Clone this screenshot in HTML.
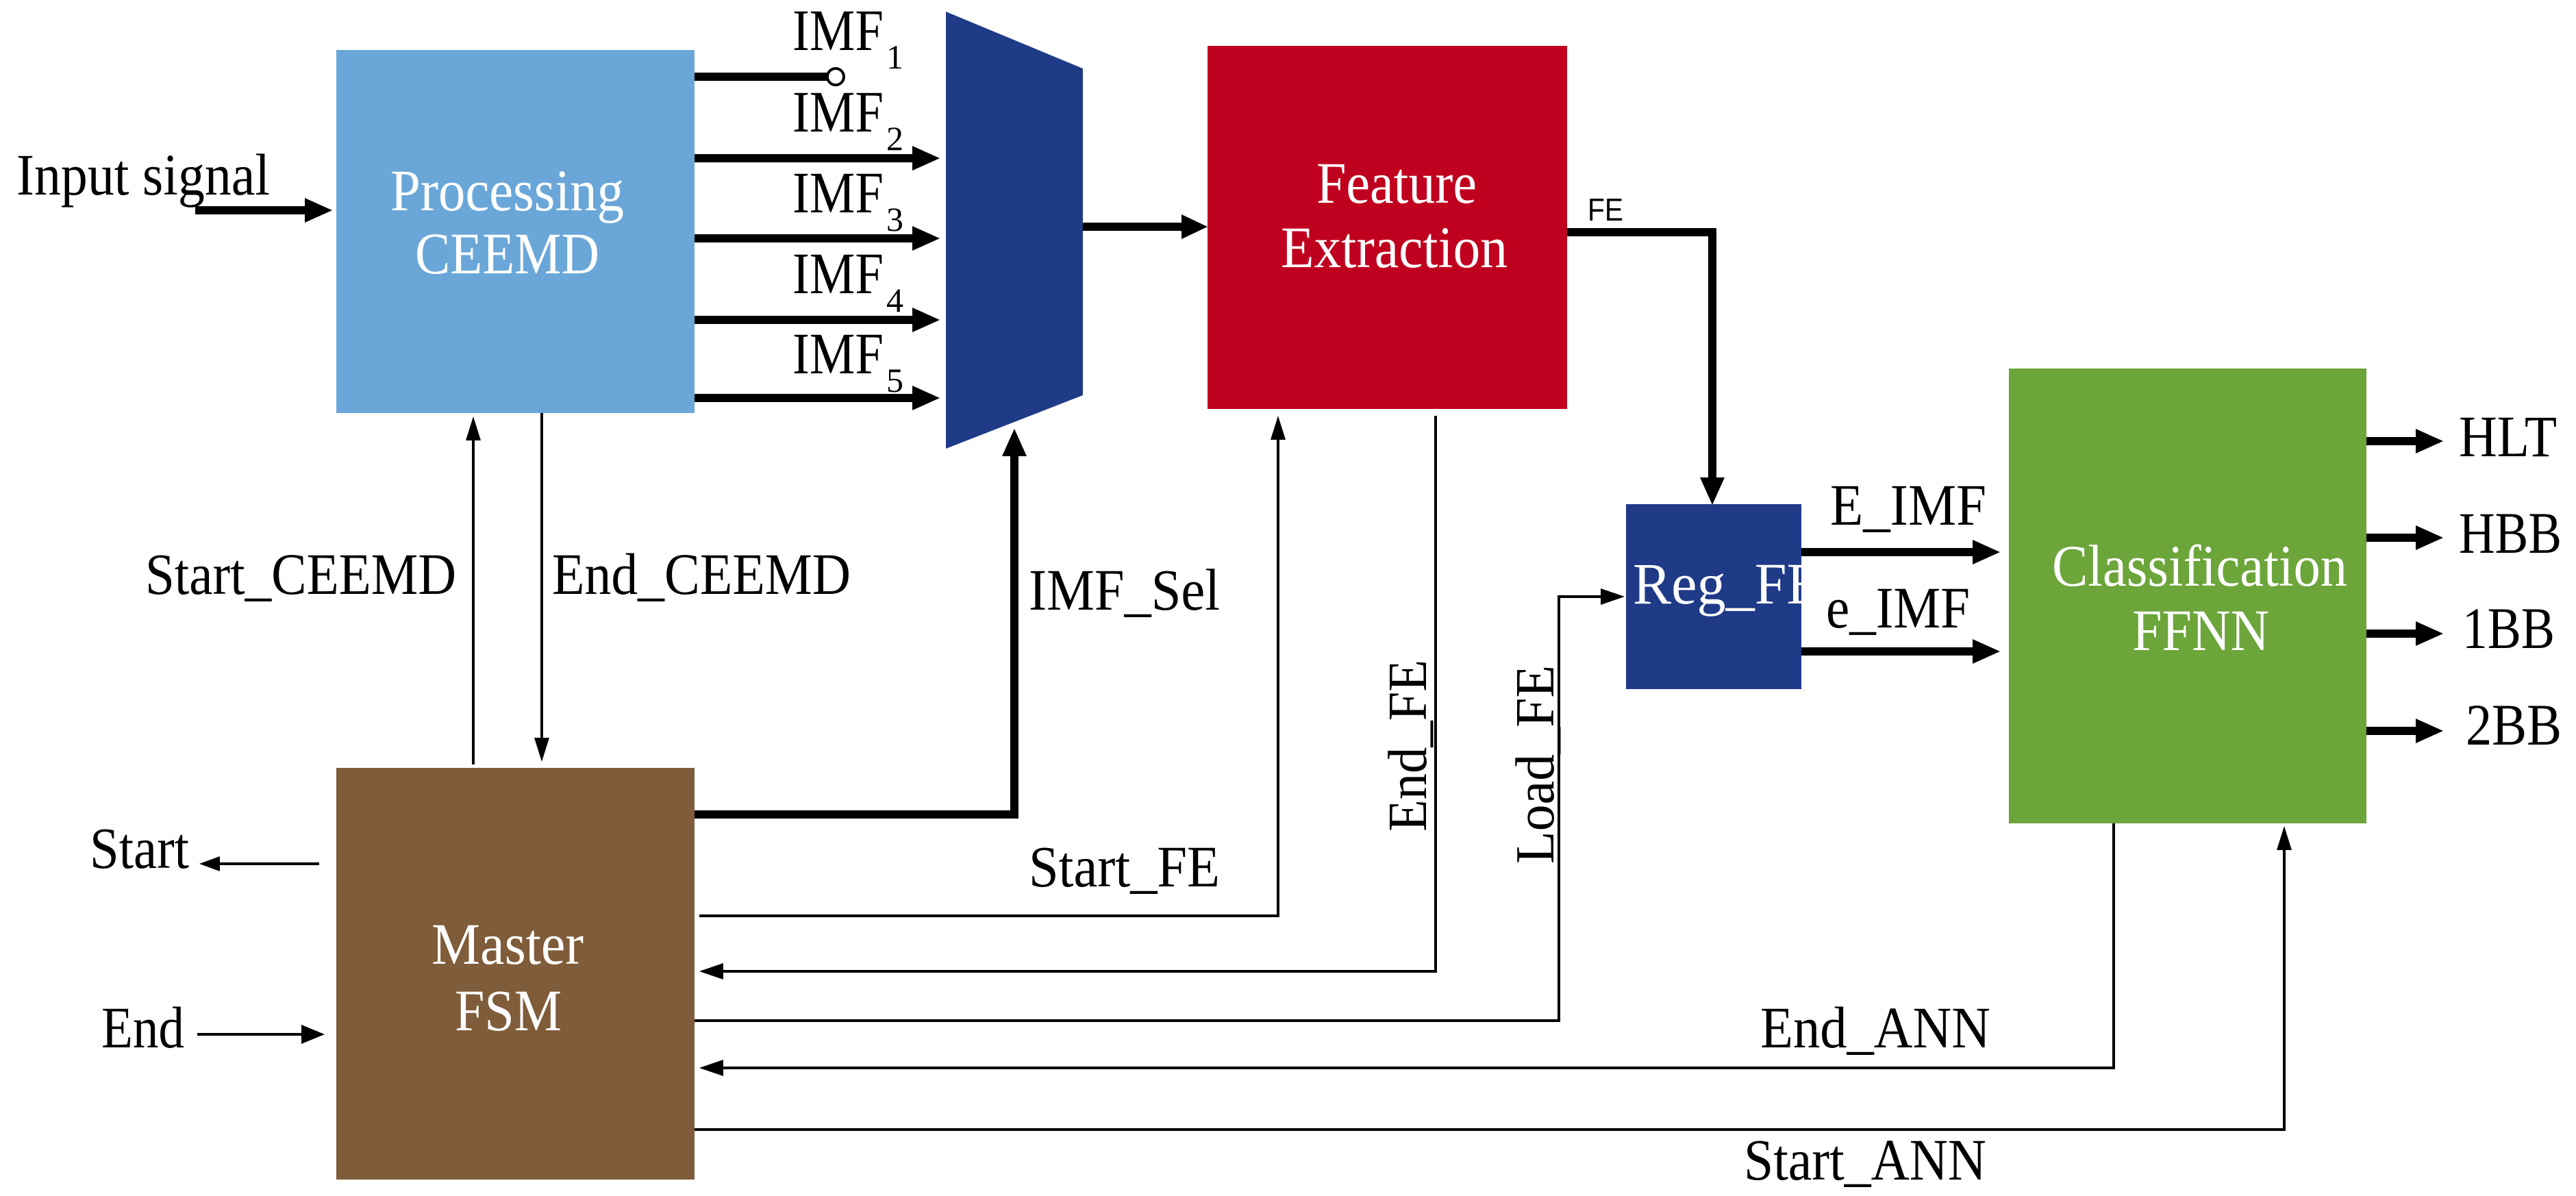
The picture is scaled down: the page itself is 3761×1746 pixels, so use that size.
<!DOCTYPE html>
<html><head><meta charset="utf-8"><style>html,body{margin:0;padding:0;background:#fff}svg{display:block}</style></head>
<body>
<svg width="3761" height="1746" viewBox="0 0 3761 1746" xmlns="http://www.w3.org/2000/svg" font-family="Liberation Serif, serif">
<rect width="3761" height="1746" fill="#fff"/>
<!-- boxes -->
<rect x="491" y="73" width="523" height="530" fill="#6aa7d8"/>
<polygon points="1381,17 1581,100 1581,577 1381,655" fill="#1f3a87"/>
<rect x="1763" y="67" width="525" height="530" fill="#c0001f"/>
<rect x="2374" y="736" width="256" height="270" fill="#1f3a87"/>
<rect x="2933" y="538" width="522" height="664" fill="#6ca53a"/>
<rect x="491" y="1121" width="523" height="601" fill="#7f5c3a"/>

<!-- thick connectors -->
<g stroke="#000" stroke-width="12" fill="none">
<line x1="285" y1="307" x2="455" y2="307"/>
<line x1="1014" y1="112" x2="1208" y2="112"/>
<line x1="1014" y1="231" x2="1340" y2="231"/>
<line x1="1014" y1="348" x2="1340" y2="348"/>
<line x1="1014" y1="467" x2="1340" y2="467"/>
<line x1="1014" y1="581" x2="1340" y2="581"/>
<line x1="1581" y1="331" x2="1735" y2="331"/>
<polyline points="2288,339 2500,339 2500,705"/>
<line x1="2630" y1="806" x2="2890" y2="806"/>
<line x1="2630" y1="951" x2="2890" y2="951"/>
<line x1="3455" y1="644" x2="3535" y2="644"/>
<line x1="3455" y1="785" x2="3535" y2="785"/>
<line x1="3455" y1="925" x2="3535" y2="925"/>
<line x1="3455" y1="1067" x2="3535" y2="1067"/>
<polyline points="1014,1189 1481,1189 1481,660"/>
</g>
<circle cx="1220" cy="112" r="12" fill="#fff" stroke="#000" stroke-width="4"/>
<g fill="#000">
<polygon points="445,289 485,307 445,325"/>
<polygon points="1332,213 1372,231 1332,249"/>
<polygon points="1332,330 1372,348 1332,366"/>
<polygon points="1332,449 1372,467 1332,485"/>
<polygon points="1332,563 1372,581 1332,599"/>
<polygon points="1725,313 1763,331 1725,349"/>
<polygon points="2482,697 2500,737 2518,697"/>
<polygon points="2880,788 2920,806 2880,824"/>
<polygon points="2880,933 2920,951 2880,969"/>
<polygon points="3527,626 3567,644 3527,662"/>
<polygon points="3527,767 3567,785 3527,803"/>
<polygon points="3527,907 3567,925 3527,943"/>
<polygon points="3527,1049 3567,1067 3527,1085"/>
<polygon points="1463,666 1481,626 1499,666"/>
</g>

<!-- thin connectors -->
<g stroke="#000" stroke-width="4" fill="none">
<line x1="691" y1="1116" x2="691" y2="630"/>
<line x1="791" y1="603" x2="791" y2="1090"/>
<polyline points="1021,1337 1866,1337 1866,630"/>
<polyline points="2096,607 2096,1418 1045,1418"/>
<polyline points="1014,1490 2276,1490 2276,871 2350,871"/>
<polyline points="3086,1202 3086,1559 1045,1559"/>
<polyline points="1014,1649 3335,1649 3335,1230"/>
<line x1="466" y1="1261" x2="310" y2="1261"/>
<line x1="288" y1="1510" x2="450" y2="1510"/>
</g>
<g fill="#000">
<polygon points="680,643 691,608 702,643"/>
<polygon points="780,1077 791,1112 802,1077"/>
<polygon points="1855,642 1866,607 1877,642"/>
<polygon points="1056,1406 1021,1418 1056,1430"/>
<polygon points="2337,859 2372,871 2337,883"/>
<polygon points="1056,1547 1021,1559 1056,1571"/>
<polygon points="3324,1241 3335,1206 3346,1241"/>
<polygon points="321,1250 291,1261 321,1272"/>
<polygon points="440,1496 474,1510 440,1524"/>
</g>

<!-- labels -->
<g font-size="86" fill="#000">
<text x="24" y="284" textLength="370" lengthAdjust="spacingAndGlyphs">Input signal</text>
<text x="1157" y="73" textLength="133" lengthAdjust="spacingAndGlyphs">IMF</text>
<text x="1157" y="192" textLength="133" lengthAdjust="spacingAndGlyphs">IMF</text>
<text x="1157" y="310" textLength="133" lengthAdjust="spacingAndGlyphs">IMF</text>
<text x="1157" y="428" textLength="133" lengthAdjust="spacingAndGlyphs">IMF</text>
<text x="1157" y="545" textLength="133" lengthAdjust="spacingAndGlyphs">IMF</text>
<text x="1294" y="100" font-size="50">1</text>
<text x="1294" y="219" font-size="50">2</text>
<text x="1294" y="337" font-size="50">3</text>
<text x="1294" y="455" font-size="50">4</text>
<text x="1294" y="572" font-size="50">5</text>
<text x="212" y="867" textLength="454" lengthAdjust="spacingAndGlyphs">Start_CEEMD</text>
<text x="806" y="867" textLength="436" lengthAdjust="spacingAndGlyphs">End_CEEMD</text>
<text x="1502" y="890" textLength="279" lengthAdjust="spacingAndGlyphs">IMF_Sel</text>
<text x="1502" y="1294" textLength="279" lengthAdjust="spacingAndGlyphs">Start_FE</text>
<text x="131" y="1267" textLength="145" lengthAdjust="spacingAndGlyphs">Start</text>
<text x="148" y="1529" textLength="121" lengthAdjust="spacingAndGlyphs">End</text>
<text x="2672" y="766" textLength="228" lengthAdjust="spacingAndGlyphs">E_IMF</text>
<text x="2666" y="916" textLength="210" lengthAdjust="spacingAndGlyphs">e_IMF</text>
<text x="3590" y="666" textLength="143" lengthAdjust="spacingAndGlyphs">HLT</text>
<text x="3590" y="807" textLength="150" lengthAdjust="spacingAndGlyphs">HBB</text>
<text x="3595" y="946" textLength="135" lengthAdjust="spacingAndGlyphs">1BB</text>
<text x="3600" y="1087" textLength="140" lengthAdjust="spacingAndGlyphs">2BB</text>
<text x="2570" y="1529" textLength="336" lengthAdjust="spacingAndGlyphs">End_ANN</text>
<text x="2546" y="1722" textLength="354" lengthAdjust="spacingAndGlyphs">Start_ANN</text>
<text transform="translate(2082,1214) rotate(-90)" textLength="251" lengthAdjust="spacingAndGlyphs" font-size="80">End_FE</text>
<text transform="translate(2268,1261) rotate(-90)" textLength="290" lengthAdjust="spacingAndGlyphs" font-size="80">Load_FE</text>
<text x="2318" y="322" font-family="Liberation Sans, sans-serif" font-size="46" textLength="52" lengthAdjust="spacingAndGlyphs">FE</text>
</g>
<g font-size="86" fill="#fff">
<text x="570" y="307" textLength="341" lengthAdjust="spacingAndGlyphs">Processing</text>
<text x="606" y="399" textLength="269" lengthAdjust="spacingAndGlyphs">CEEMD</text>
<text x="1922" y="296" textLength="234" lengthAdjust="spacingAndGlyphs">Feature</text>
<text x="1870" y="390" textLength="331" lengthAdjust="spacingAndGlyphs">Extraction</text>
<text x="2996" y="855" textLength="431" lengthAdjust="spacingAndGlyphs">Classification</text>
<text x="3113" y="949" textLength="200" lengthAdjust="spacingAndGlyphs">FFNN</text>
<text x="630" y="1407" textLength="222" lengthAdjust="spacingAndGlyphs">Master</text>
<text x="664" y="1504" textLength="156" lengthAdjust="spacingAndGlyphs">FSM</text>
</g>
<svg x="2374" y="736" width="256" height="270">
<text x="10" y="145" font-size="86" fill="#fff" textLength="276" lengthAdjust="spacingAndGlyphs">Reg_FE</text>
</svg>
</svg>
</body></html>
